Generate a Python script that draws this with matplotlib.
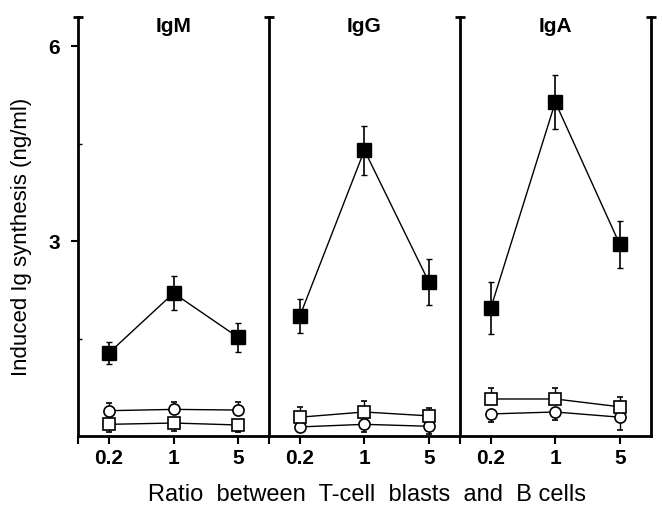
import matplotlib.pyplot as plt
import numpy as np

plt.rcParams['font.family'] = ['Liberation Sans', 'DejaVu Sans']

# ratio between T-cell blasts and B cells
ratios = ['0.2', '1', '5']
panels = ['IgM', 'IgG', 'IgA']

# filled squares (mean, error)
filled = {'IgM': [1.28, 2.20, 1.52],
          'IgG': [1.85, 4.40, 2.37],
          'IgA': [1.97, 5.14, 2.95]}
filled_err = {'IgM': [0.17, 0.26, 0.22],
              'IgG': [0.26, 0.38, 0.35],
              'IgA': [0.40, 0.42, 0.36]}

# open squares (mean, lower err, upper err)
osq = {'IgM': [0.18, 0.20, 0.17],
       'IgG': [0.29, 0.37, 0.31],
       'IgA': [0.57, 0.57, 0.45]}
osq_lo = {'IgM': [0.12, 0.12, 0.11], 'IgG': [0, 0, 0], 'IgA': [0, 0, 0]}
osq_hi = {'IgM': [0, 0, 0], 'IgG': [0.15, 0.17, 0.12], 'IgA': [0.17, 0.17, 0.15]}

# open circles
ocir = {'IgM': [0.39, 0.41, 0.40],
        'IgG': [0.14, 0.18, 0.15],
        'IgA': [0.34, 0.37, 0.29]}
ocir_lo = {'IgM': [0, 0, 0], 'IgG': [0.08, 0.12, 0.12], 'IgA': [0.12, 0.12, 0.2]}
ocir_hi = {'IgM': [0.12, 0.12, 0.12], 'IgG': [0, 0, 0], 'IgA': [0, 0, 0]}

fig, axes = plt.subplots(1, 3, figsize=(6.62, 5.16), dpi=100, sharey=True)
fig.subplots_adjust(left=0.118, right=0.983, bottom=0.155, top=0.967, wspace=0)

x = np.arange(len(ratios))
xlo, xhi = -0.48, 2.48
ymax = 6.45

for i, (ax, name) in enumerate(zip(axes, panels)):
    ax.errorbar(x, ocir[name], yerr=[ocir_lo[name], ocir_hi[name]], color='black',
                marker='o', ms=8, mfc='white', mec='black', mew=1.2, lw=1,
                elinewidth=1, capsize=2.5, zorder=3)
    ax.errorbar(x, osq[name], yerr=[osq_lo[name], osq_hi[name]], color='black',
                marker='s', ms=9, mfc='white', mec='black', mew=1.2, lw=1,
                elinewidth=1, capsize=2.5, zorder=3)
    ax.errorbar(x, filled[name], yerr=filled_err[name], color='black',
                marker='s', ms=10, mfc='black', mec='black', lw=1,
                elinewidth=1.2, capsize=2.5, zorder=4)

    ax.set_xlim(xlo, xhi)
    ax.set_ylim(0, ymax)
    ax.set_xticks(x)
    ax.set_xticklabels(ratios, fontsize=15, fontweight='bold')
    ax.set_xticks([xlo], minor=True)
    ax.tick_params(axis='x', which='both', direction='out', length=6, width=1.5, pad=3)
    ax.text(0.5, 1.0, name, transform=ax.transAxes, ha='center', va='top',
            fontsize=15, fontweight='bold')

    ax.spines['top'].set_visible(False)
    ax.spines['right'].set_visible(i == 2)
    for s in ['left', 'bottom', 'right']:
        ax.spines[s].set_linewidth(2)
    # small cap on top of each vertical axis line
    ax.plot([xlo], [ymax], marker='_', ms=7, mew=2, color='black', clip_on=False)
    if i == 2:
        ax.plot([xhi], [ymax], marker='_', ms=7, mew=2, color='black', clip_on=False)

    if i == 0:
        ax.set_yticks([3, 6])
        ax.set_yticklabels(['3', '6'], fontsize=15, fontweight='bold')
        ax.set_yticks([1.5, 4.5], minor=True)
        ax.tick_params(axis='y', which='major', direction='out', length=5, width=1.5, pad=8)
        ax.tick_params(axis='y', which='minor', direction='in', length=3, width=1)
        ax.set_ylabel('Induced Ig synthesis (ng/ml)', fontsize=16)
        ax.yaxis.set_label_coords(-0.24, 0.475)
    else:
        ax.tick_params(axis='y', which='both', left=False, labelleft=False)

fig.text(0.555, 0.04, 'Ratio  between  T-cell  blasts  and  B cells', ha='center',
         va='center', fontsize=17)

plt.savefig('out.png', dpi=100)
